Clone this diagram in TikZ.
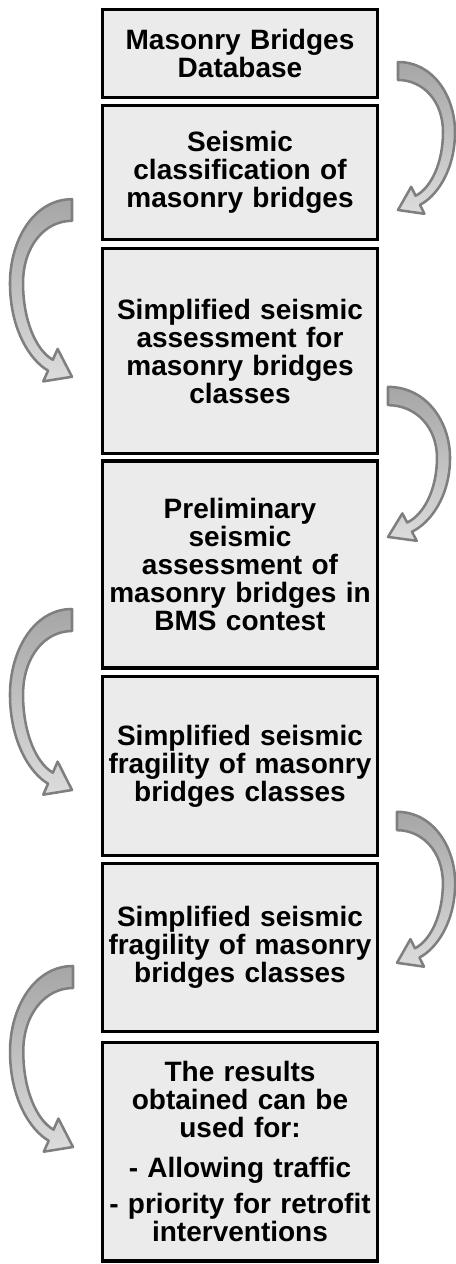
\documentclass[tikz,border=0pt]{standalone}
\usepackage{fontspec}
\setmainfont{Liberation Sans}
\usetikzlibrary{calc}
\definecolor{boxfill}{HTML}{EBEBEB}
\definecolor{arrline}{HTML}{7F7F7F}
\definecolor{arrdark}{HTML}{A6A6A6}
\definecolor{arrlight}{HTML}{DCDCDC}
\tikzset{
  stagebox/.style={draw=black, line width=2.5pt, fill=boxfill, rectangle,
    minimum width=206.25pt, inner sep=0pt, text width=204pt, align=center,
    font=\fontsize{21}{21}\selectfont\bfseries},
  pics/bendarrow/.style={code={
    \draw[draw=arrline, line width=1.9pt, line join=round,
          top color=arrdark, bottom color=arrlight]
      (0,-9) .. controls (35,-9) and (57,25) .. (57,61)
             .. controls (57,100) and (38,125.8) .. (22,133.8)
      -- (26.4,142.8) -- (0,139) -- (13.2,115.8) -- (17.6,124.8)
             .. controls (33,117) and (45,92) .. (45,61)
             .. controls (45,30) and (25,9) .. (0,9) -- cycle;
  }}
}
\begin{document}
\begin{tikzpicture}[x=0.75pt, y=-0.75pt]
\useasboundingbox (0,0) rectangle (456,1264);
\node[stagebox, minimum height=66pt]     (b1) at (240,53.5)   {Masonry Bridges\\Database};
\node[stagebox, minimum height=100.5pt]  (b2) at (240,172.5)  {Seismic\\classification of\\masonry bridges};
\node[stagebox, minimum height=153.75pt] (b3) at (240,351)    {Simplified seismic\\assessment for\\masonry bridges\\classes};
\node[stagebox, minimum height=155.25pt] (b4) at (240,564.5)  {Preliminary\\seismic\\assessment of\\masonry bridges in\\BMS contest};
\node[stagebox, minimum height=134.25pt] (b5) at (240,766)    {Simplified seismic\\fragility of masonry\\bridges classes};
\node[stagebox, minimum height=126pt]    (b6) at (240,947.5)  {Simplified seismic\\fragility of masonry\\bridges classes};
\node[stagebox, minimum height=163.9pt]  (b7) at (240,1151.75){The results\\obtained can be\\used for:\\[9pt]- Allowing traffic\\[6pt]- priority for retrofit\\interventions};
% curved block arrows (tail points)
\coordinate (ra1) at (398,71);
\coordinate (la1) at (72,210);
\coordinate (ra2) at (388,396);
\coordinate (la2) at (72,620);
\coordinate (ra3) at (397,821);
\coordinate (la3) at (73,977);
\pic at (ra1) {bendarrow};
\pic[xscale=-1.088, yscale=1.2] at (la1) {bendarrow};
\pic[xscale=1.088, yscale=1.014] at (ra2) {bendarrow};
\pic[xscale=-1.088, yscale=1.223] at (la2) {bendarrow};
\pic[xscale=1.02, yscale=1.02] at (ra3) {bendarrow};
\pic[xscale=-1.105, yscale=1.223] at (la3) {bendarrow};
\end{tikzpicture}
\end{document}
